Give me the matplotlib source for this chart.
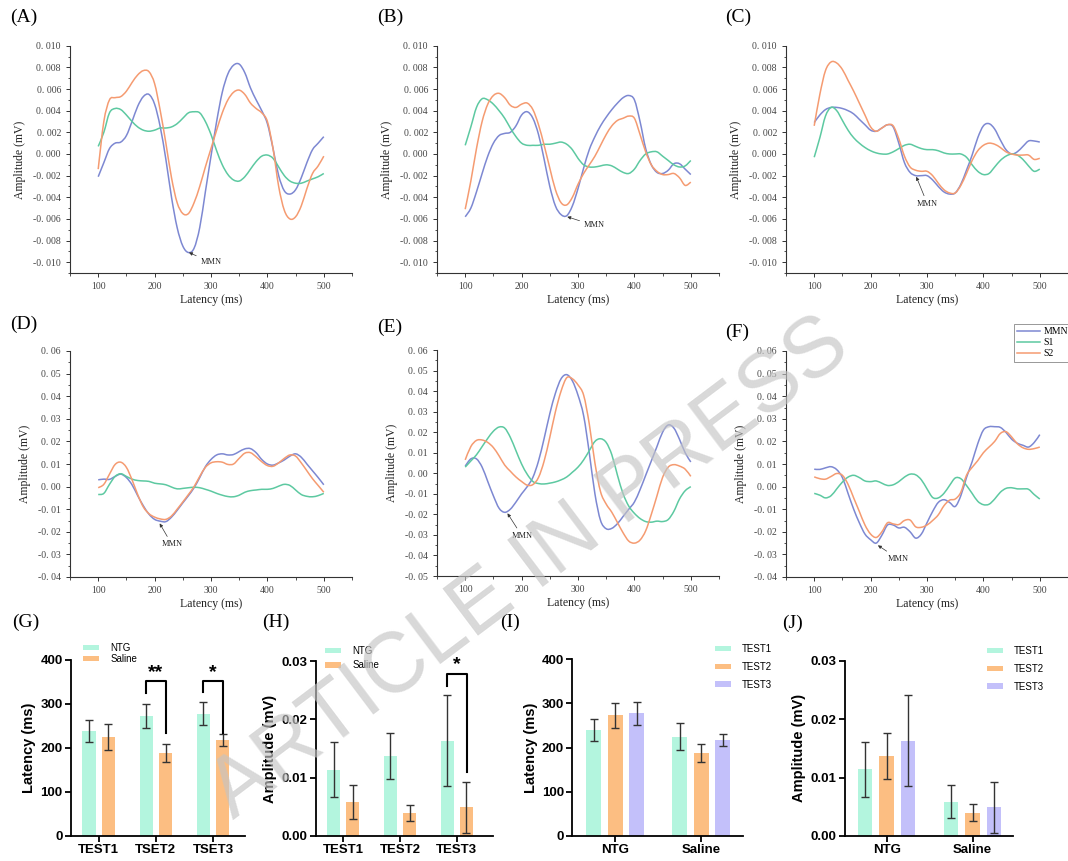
import numpy as np
import matplotlib.pyplot as plt
from matplotlib.ticker import MultipleLocator, FuncFormatter
from matplotlib.patches import Patch, PathPatch
from matplotlib.lines import Line2D
from matplotlib.path import Path

plt.rcParams['font.family'] = ['Liberation Serif', 'DejaVu Serif']
SANS = ['Liberation Sans', 'DejaVu Sans']

C_MMN = '#7d88d2'
C_S1 = '#5dc9a1'
C_S2 = '#f59b71'
C_T1 = '#b3f5de'
C_T2 = '#fcbe82'
C_T3 = '#c3c0fa'

# shared latency axis of all waveforms (ms)
latency = np.arange(100, 501, 10)

# (A)
a_mmn = [-0.0021, -0.0008, 0.0005, 0.0010, 0.0011, 0.0017, 0.0030, 0.0044, 0.0053, 0.0055,
         0.0046, 0.0025, -0.0005, -0.0040, -0.0068, -0.0085, -0.0091, -0.0087, -0.0068, -0.0035,
         -0.0002, 0.0030, 0.0057, 0.0074, 0.0082, 0.0083, 0.0075, 0.0061, 0.0050, 0.0040,
         0.0028, 0.0005, -0.0020, -0.0034, -0.0037, -0.0033, -0.0022, -0.0008, 0.0004, 0.0010, 0.0016]
a_s1 = [0.0007, 0.0020, 0.0038, 0.0042, 0.0041, 0.0036, 0.0030, 0.0025, 0.0022, 0.0021,
        0.0022, 0.0024, 0.0024, 0.0025, 0.0028, 0.0033, 0.0038, 0.0039, 0.0038, 0.0030,
        0.0018, 0.0003, -0.0010, -0.0019, -0.0024, -0.0025, -0.0021, -0.0014, -0.0007, -0.0002,
        -0.0001, -0.0004, -0.0012, -0.0020, -0.0025, -0.0027, -0.0027, -0.0025, -0.0023, -0.0021, -0.0018]
a_s2 = [-0.0014, 0.0030, 0.0050, 0.0052, 0.0053, 0.0058, 0.0066, 0.0073, 0.0077, 0.0076,
        0.0065, 0.0040, 0.0010, -0.0022, -0.0045, -0.0055, -0.0055, -0.0045, -0.0030, -0.0012,
        0.0005, 0.0022, 0.0038, 0.0050, 0.0057, 0.0059, 0.0055, 0.0047, 0.0042, 0.0038,
        0.0030, 0.0005, -0.0030, -0.0052, -0.0060, -0.0058, -0.0048, -0.0032, -0.0018, -0.0011, -0.0002]

# (B)
b_mmn = [-0.0058, -0.0050, -0.0035, -0.0018, -0.0002, 0.0010, 0.0017, 0.0019, 0.0020, 0.0026,
         0.0036, 0.0039, 0.0033, 0.0018, -0.0005, -0.0030, -0.0048, -0.0056, -0.0057, -0.0048,
         -0.0032, -0.0013, 0.0004, 0.0016, 0.0026, 0.0034, 0.0041, 0.0047, 0.0052, 0.0054,
         0.0050, 0.0030, 0.0005, -0.0010, -0.0017, -0.0018, -0.0015, -0.0009, -0.0009, -0.0014, -0.0019]
b_s1 = [0.0008, 0.0025, 0.0043, 0.0051, 0.0050, 0.0046, 0.0040, 0.0033, 0.0024, 0.0016,
        0.0010, 0.0008, 0.0008, 0.0008, 0.0009, 0.0009, 0.0010, 0.0011, 0.0009, 0.0004,
        -0.0004, -0.0010, -0.0012, -0.0012, -0.0011, -0.0010, -0.0011, -0.0014, -0.0017, -0.0018,
        -0.0014, -0.0006, 0.0000, 0.0002, 0.0002, -0.0002, -0.0006, -0.0010, -0.0012, -0.0011, -0.0006]
b_s2 = [-0.0051, -0.0025, 0.0005, 0.0030, 0.0046, 0.0054, 0.0056, 0.0052, 0.0045, 0.0043,
        0.0046, 0.0047, 0.0041, 0.0027, 0.0008, -0.0013, -0.0033, -0.0045, -0.0047, -0.0040,
        -0.0028, -0.0018, -0.0010, -0.0002, 0.0008, 0.0018, 0.0026, 0.0031, 0.0033, 0.0035,
        0.0033, 0.0018, 0.0002, -0.0010, -0.0016, -0.0019, -0.0019, -0.0018, -0.0022, -0.0029, -0.0026]

# (C)
c_mmn = [0.0029, 0.0036, 0.0041, 0.0043, 0.0043, 0.0042, 0.0040, 0.0037, 0.0032, 0.0027,
         0.0022, 0.0021, 0.0024, 0.0027, 0.0025, 0.0010, -0.0008, -0.0017, -0.0020, -0.0020,
         -0.0020, -0.0024, -0.0030, -0.0035, -0.0037, -0.0036, -0.0028, -0.0015, -0.0001, 0.0015,
         0.0026, 0.0028, 0.0023, 0.0013, 0.0004, 0.0000, 0.0002, 0.0007, 0.0012, 0.0012, 0.0011]
c_s1 = [-0.0003, 0.0015, 0.0035, 0.0043, 0.0040, 0.0031, 0.0022, 0.0015, 0.0010, 0.0006,
        0.0003, 0.0001, 0.0000, 0.0000, 0.0002, 0.0005, 0.0008, 0.0009, 0.0007, 0.0005,
        0.0004, 0.0004, 0.0003, 0.0001, 0.0000, 0.0000, 0.0000, -0.0003, -0.0010, -0.0016,
        -0.0019, -0.0018, -0.0012, -0.0006, -0.0002, 0.0000, -0.0001, -0.0005, -0.0011, -0.0016, -0.0014]
c_s2 = [0.0026, 0.0055, 0.0077, 0.0085, 0.0084, 0.0078, 0.0068, 0.0058, 0.0047, 0.0036,
        0.0025, 0.0021, 0.0024, 0.0027, 0.0026, 0.0014, -0.0002, -0.0012, -0.0015, -0.0016,
        -0.0016, -0.0020, -0.0027, -0.0033, -0.0036, -0.0036, -0.0029, -0.0018, -0.0006, 0.0003,
        0.0008, 0.0010, 0.0009, 0.0006, 0.0002, 0.0000, -0.0001, -0.0001, -0.0001, -0.0005, -0.0004]

# (D)
d_mmn = [0.0030, 0.0033, 0.0032, 0.0045, 0.0055, 0.0040, 0.0008, -0.0040, -0.0085, -0.0122,
         -0.0145, -0.0153, -0.0155, -0.0135, -0.0105, -0.0072, -0.0040, -0.0005, 0.0040, 0.0088,
         0.0120, 0.0140, 0.0145, 0.0140, 0.0142, 0.0155, 0.0167, 0.0168, 0.0150, 0.0120,
         0.0100, 0.0095, 0.0105, 0.0118, 0.0135, 0.0145, 0.0130, 0.0100, 0.0070, 0.0040, 0.0008]
d_s1 = [-0.0035, -0.0030, 0.0010, 0.0045, 0.0057, 0.0045, 0.0033, 0.0027, 0.0025, 0.0023,
        0.0015, 0.0012, 0.0008, -0.0002, -0.0010, -0.0008, -0.0005, -0.0003, -0.0005, -0.0012,
        -0.0020, -0.0030, -0.0038, -0.0044, -0.0045, -0.0038, -0.0025, -0.0018, -0.0015, -0.0012,
        -0.0012, -0.0008, 0.0002, 0.0010, 0.0005, -0.0015, -0.0035, -0.0043, -0.0045, -0.0040, -0.0030]
d_s2 = [-0.0005, 0.0010, 0.0055, 0.0098, 0.0108, 0.0085, 0.0030, -0.0035, -0.0090, -0.0120,
        -0.0135, -0.0143, -0.0145, -0.0130, -0.0100, -0.0068, -0.0035, 0.0000, 0.0045, 0.0085,
        0.0105, 0.0110, 0.0108, 0.0098, 0.0100, 0.0125, 0.0148, 0.0150, 0.0132, 0.0110,
        0.0093, 0.0090, 0.0105, 0.0125, 0.0140, 0.0135, 0.0105, 0.0070, 0.0035, 0.0005, -0.0025]

# (E)
e_mmn = [0.0035, 0.0070, 0.0070, 0.0030, -0.0040, -0.0110, -0.0170, -0.0190, -0.0175, -0.0140,
         -0.0100, -0.0065, -0.0020, 0.0060, 0.0170, 0.0290, 0.0390, 0.0460, 0.0480, 0.0450,
         0.0380, 0.0280, 0.0100, -0.0100, -0.0230, -0.0270, -0.0268, -0.0245, -0.0210, -0.0175,
         -0.0140, -0.0080, -0.0010, 0.0060, 0.0130, 0.0200, 0.0235, 0.0220, 0.0165, 0.0100, 0.0055]
e_s1 = [0.0030, 0.0060, 0.0090, 0.0130, 0.0170, 0.0205, 0.0225, 0.0220, 0.0175, 0.0110,
        0.0045, -0.0005, -0.0040, -0.0050, -0.0052, -0.0048, -0.0042, -0.0032, -0.0018, 0.0005,
        0.0030, 0.0065, 0.0110, 0.0155, 0.0168, 0.0150, 0.0090, -0.0010, -0.0100, -0.0160,
        -0.0195, -0.0220, -0.0235, -0.0238, -0.0233, -0.0235, -0.0225, -0.0185, -0.0125, -0.0085, -0.0065]
e_s2 = [0.0065, 0.0130, 0.0160, 0.0162, 0.0150, 0.0125, 0.0085, 0.0040, 0.0010, -0.0018,
        -0.0040, -0.0058, -0.0055, -0.0020, 0.0060, 0.0175, 0.0300, 0.0400, 0.0465, 0.0460,
        0.0430, 0.0380, 0.0240, 0.0050, -0.0090, -0.0150, -0.0190, -0.0240, -0.0290, -0.0330,
        -0.0340, -0.0325, -0.0280, -0.0200, -0.0110, -0.0020, 0.0030, 0.0042, 0.0035, 0.0020, -0.0015]

# (F)
f_mmn = [0.0077, 0.0076, 0.0083, 0.0088, 0.0075, 0.0040, -0.0030, -0.0100, -0.0160, -0.0210,
         -0.0235, -0.0250, -0.0215, -0.0170, -0.0170, -0.0183, -0.0180, -0.0200, -0.0228, -0.0210,
         -0.0160, -0.0110, -0.0070, -0.0058, -0.0070, -0.0088, -0.0040, 0.0040, 0.0110, 0.0190,
         0.0250, 0.0265, 0.0265, 0.0262, 0.0240, 0.0210, 0.0192, 0.0183, 0.0175, 0.0195, 0.0230]
f_s1 = [-0.0030, -0.0038, -0.0050, -0.0040, -0.0010, 0.0020, 0.0042, 0.0050, 0.0040, 0.0025,
        0.0022, 0.0025, 0.0015, 0.0005, 0.0008, 0.0022, 0.0042, 0.0055, 0.0052, 0.0030,
        -0.0010, -0.0048, -0.0050, -0.0030, 0.0005, 0.0038, 0.0035, 0.0005, -0.0030, -0.0065,
        -0.0080, -0.0078, -0.0055, -0.0025, -0.0008, -0.0005, -0.0010, -0.0010, -0.0012, -0.0035, -0.0055]
f_s2 = [0.0043, 0.0035, 0.0033, 0.0045, 0.0058, 0.0050, 0.0010, -0.0050, -0.0110, -0.0170,
        -0.0210, -0.0225, -0.0200, -0.0160, -0.0165, -0.0168, -0.0150, -0.0148, -0.0178, -0.0180,
        -0.0170, -0.0150, -0.0125, -0.0085, -0.0060, -0.0055, -0.0025, 0.0050, 0.0085, 0.0115,
        0.0150, 0.0175, 0.0200, 0.0235, 0.0243, 0.0220, 0.0190, 0.0172, 0.0165, 0.0168, 0.0175]

# MMN markers: (tip x, tip y, text x, text y)
mmn_notes = {
    'A': (261, -0.0091, 281, -0.0100),
    'B': (281, -0.0058, 310, -0.0066),
    'C': (281, -0.0021, 282, -0.0046),
    'D': (209, -0.0163, 212, -0.0256),
    'E': (175, -0.0195, 182, -0.0305),
    'F': (213, -0.0260, 230, -0.0319),
}

# bar charts (mean, sd)
tests_g = ['TEST1', 'TSET2', 'TSET3']
tests_h = ['TEST1', 'TEST2', 'TEST3']
groups = ['NTG', 'Saline']
lat_ntg = [239, 273, 278]
lat_ntg_sd = [25, 28, 26]
lat_sal = [225, 188, 218]
lat_sal_sd = [30, 20, 13.5]
amp_ntg = [0.0114, 0.0137, 0.0163]
amp_ntg_sd = [0.0047, 0.0040, 0.0078]
amp_sal = [0.0059, 0.0040, 0.0049]
amp_sal_sd = [0.0029, 0.0014, 0.0044]

W, H = 1068, 861
fig = plt.figure(figsize=(W / 100, H / 100), dpi=100)


def px_rect(left, top, right, bottom):
    return [left / W, 1 - bottom / H, (right - left) / W, (bottom - top) / H]


def amp_fmt(nd):
    def f(v, pos):
        s = f"{v:.{nd}f}"
        if float(s) == 0:
            s = s.lstrip('-')
        return s.replace('.', '. ')
    return FuncFormatter(f)


def spline_line(ax, x, y, color):
    # smooth (Catmull-Rom style) connection through the data points, like Origin's spline line
    x = np.asarray(x, float)
    y = np.asarray(y, float)
    xp = np.concatenate([[x[0]], x, [x[-1]]])
    yp = np.concatenate([[y[0]], y, [y[-1]]])
    verts = [(x[0], y[0])]
    codes = [Path.MOVETO]
    for i in range(len(x) - 1):
        c1 = (x[i] + (xp[i + 2] - xp[i]) / 6, y[i] + (yp[i + 2] - yp[i]) / 6)
        c2 = (x[i + 1] - (xp[i + 3] - xp[i + 1]) / 6, y[i + 1] - (yp[i + 3] - yp[i + 1]) / 6)
        verts += [c1, c2, (x[i + 1], y[i + 1])]
        codes += [Path.CURVE4] * 3
    ax.add_patch(PathPatch(Path(verts, codes), facecolor='none', edgecolor=color, lw=1.1))


def wave_panel(rect, mmn, s1, s2, ylim, step, nd, note):
    ax = fig.add_axes(rect)
    spline_line(ax, latency, mmn, C_MMN)
    spline_line(ax, latency, s1, C_S1)
    spline_line(ax, latency, s2, C_S2)
    ax.set_xlim(50, 550)
    ax.set_ylim(*ylim)
    ax.xaxis.set_major_locator(MultipleLocator(100))
    ax.xaxis.set_minor_locator(MultipleLocator(50))
    ax.yaxis.set_major_locator(MultipleLocator(step))
    ax.yaxis.set_minor_locator(MultipleLocator(step / 2))
    ax.yaxis.set_major_formatter(amp_fmt(nd))
    for s in ('top', 'right'):
        ax.spines[s].set_visible(False)
    for s in ('left', 'bottom'):
        ax.spines[s].set_linewidth(0.8)
        ax.spines[s].set_color('#333333')
    ax.tick_params(which='major', length=3, width=0.7, labelsize=7,
                   color='#333333', labelcolor='#444444')
    ax.tick_params(which='minor', length=1.8, width=0.6, color='#333333')
    ax.set_xlabel('Latency (ms)', fontsize=8.5, labelpad=2, color='#222222')
    ax.set_ylabel('Amplitude (mV)', fontsize=8.5, labelpad=5, color='#222222')
    tx, ty, nx, ny = note
    ax.annotate('MMN', xy=(tx, ty), xytext=(nx, ny), fontsize=6, ha='left', va='center',
                color='#222222',
                arrowprops=dict(arrowstyle='-|>', lw=0.5, color='#333333',
                                mutation_scale=5, shrinkA=1, shrinkB=0))
    return ax


top1, bot1 = 45.7, 273.1
top2, bot2 = 351, 577
lefts = [70, 437, 786]
wave_panel(px_rect(lefts[0], top1, lefts[0] + 282, bot1), a_mmn, a_s1, a_s2, (-0.011, 0.010), 0.002, 3, mmn_notes['A'])
wave_panel(px_rect(lefts[1], top1, lefts[1] + 282, bot1), b_mmn, b_s1, b_s2, (-0.011, 0.010), 0.002, 3, mmn_notes['B'])
wave_panel(px_rect(lefts[2], top1, lefts[2] + 282, bot1), c_mmn, c_s1, c_s2, (-0.011, 0.010), 0.002, 3, mmn_notes['C'])
wave_panel(px_rect(lefts[0], top2, lefts[0] + 282, bot2), d_mmn, d_s1, d_s2, (-0.04, 0.06), 0.01, 2, mmn_notes['D'])
wave_panel(px_rect(lefts[1], top2 - 1, lefts[1] + 282, bot2 - 1), e_mmn, e_s1, e_s2, (-0.05, 0.06), 0.01, 2, mmn_notes['E'])
wave_panel(px_rect(lefts[2], top2, lefts[2] + 282, bot2), f_mmn, f_s1, f_s2, (-0.04, 0.06), 0.01, 2, mmn_notes['F'])

wave_handles = [Line2D([], [], color=c, lw=1.1) for c in (C_MMN, C_S1, C_S2)]
leg = fig.legend(wave_handles, ['MMN', 'S1', 'S2'], loc='upper left',
                 bbox_to_anchor=(1014 / W, 1 - 324 / H), bbox_transform=fig.transFigure,
                 fontsize=7, handlelength=2.3, handletextpad=0.4, labelspacing=0.2,
                 borderpad=0.35, borderaxespad=0, fancybox=False, framealpha=1,
                 edgecolor='#888888')
leg.get_frame().set_linewidth(0.6)


def bar_axes(rect, xlim, ylim, ticks, nd, xlabels, ylabel):
    ax = fig.add_axes(rect)
    ax.set_xlim(*xlim)
    ax.set_ylim(*ylim)
    for s in ('top', 'right'):
        ax.spines[s].set_visible(False)
    for s in ('left', 'bottom'):
        ax.spines[s].set_linewidth(1.3)
    ax.set_yticks(ticks, [f"{t:.{nd}f}" for t in ticks], family=SANS, fontweight='bold', fontsize=9.5)
    ax.set_xticks(range(len(xlabels)), xlabels, family=SANS, fontweight='bold', fontsize=9.5)
    ax.tick_params(width=1.3, length=4, pad=2)
    ax.set_ylabel(ylabel, family=SANS, fontweight='bold', fontsize=10.5, labelpad=3)
    return ax


def bars(ax, xs, vals, sds, color, width):
    ax.bar(xs, vals, width=width, color=color, edgecolor='none', zorder=2)
    ax.errorbar(xs, vals, yerr=sds, fmt='none', ecolor='#333333', elinewidth=1,
                capsize=2.8, capthick=1, zorder=3)


def bracket(ax, x0, x1, ytop, yl, yr, stars, ystar):
    ax.plot([x0, x0, x1, x1], [yl, ytop, ytop, yr], color='black', lw=1.5, clip_on=False, zorder=4)
    ax.text((x0 + x1) / 2, ystar, stars, ha='center', va='center', family=SANS,
            fontweight='bold', fontsize=14)


def bar_legend(ax, names, colors, anchor_px, spacing):
    handles = [Patch(facecolor=c, edgecolor='none') for c in colors]
    ax.legend(handles, names, loc='upper left', frameon=False,
              bbox_to_anchor=(anchor_px[0] / W, 1 - anchor_px[1] / H), bbox_transform=fig.transFigure,
              prop=dict(family=SANS, size=7), handlelength=1.6, handleheight=0.45,
              handletextpad=1.2, labelspacing=spacing, borderpad=0, borderaxespad=0)


x3 = np.arange(3)
x2 = np.arange(2)

# (G) latency by test
ax_g = bar_axes(px_rect(71, 660, 245, 836), (-0.485, 2.56), (0, 400), [0, 100, 200, 300, 400], 0,
                tests_g, 'Latency (ms)')
bars(ax_g, x3 - 0.17, lat_ntg, lat_ntg_sd, C_T1, 0.23)
bars(ax_g, x3 + 0.17, lat_sal, lat_sal_sd, C_T2, 0.23)
bracket(ax_g, 1 - 0.17, 1 + 0.17, 352, 325, 234, '**', 372)
bracket(ax_g, 2 - 0.17, 2 + 0.17, 352, 327, 233, '*', 372)
bar_legend(ax_g, groups, [C_T1, C_T2], (83, 643), 0.1)

# (H) amplitude by test
ax_h = bar_axes(px_rect(315.7, 661, 493, 836), (-0.487, 2.64), (0, 0.03), [0, 0.01, 0.02, 0.03], 2,
                tests_h, 'Amplitude (mV)')
bars(ax_h, x3 - 0.17, amp_ntg, amp_ntg_sd, C_T1, 0.23)
bars(ax_h, x3 + 0.17, amp_sal, amp_sal_sd, C_T2, 0.23)
bracket(ax_h, 2 - 0.176, 2 + 0.176, 0.0278, 0.0257, 0.011, '*', 0.0294)
bar_legend(ax_h, groups, [C_T1, C_T2], (325, 646), 0.45)

# (I) latency by group
ax_i = bar_axes(px_rect(572.3, 659.3, 743, 836), (-0.5, 1.485), (0, 400), [0, 100, 200, 300, 400], 0,
                groups, 'Latency (ms)')
for k, (c, off) in enumerate(zip([C_T1, C_T2, C_T3], [-0.25, 0, 0.25])):
    bars(ax_i, x2 + off, [lat_ntg[k], lat_sal[k]], [lat_ntg_sd[k], lat_sal_sd[k]], c, 0.17)
bar_legend(ax_i, tests_h, [C_T1, C_T2, C_T3], (715, 644), 0.8)

# (J) amplitude by group
ax_j = bar_axes(px_rect(845, 660.7, 1013, 836), (-0.485, 1.47), (0, 0.03), [0, 0.01, 0.02, 0.03], 2,
                groups, 'Amplitude (mV)')
for k, (c, off) in enumerate(zip([C_T1, C_T2, C_T3], [-0.25, 0, 0.25])):
    bars(ax_j, x2 + off, [amp_ntg[k], amp_sal[k]], [amp_ntg_sd[k], amp_sal_sd[k]], c, 0.17)
bar_legend(ax_j, tests_h, [C_T1, C_T2, C_T3], (987, 646), 0.8)

# panel letters
letters = {'(A)': (10, 17), '(B)': (377, 17), '(C)': (725, 17),
           '(D)': (10, 324), '(E)': (377, 327), '(F)': (725, 332),
           '(G)': (12, 622), '(H)': (262, 622), '(I)': (500, 622), '(J)': (782, 623)}
for name, (x, y) in letters.items():
    fig.text(x / W, 1 - y / H, name, fontsize=14, ha='left', va='center')

# watermark
fig.text(530 / W, 1 - 569 / H, 'ARTICLE IN PRESS', rotation=37, ha='center', va='center',
         family=SANS, fontsize=61, color='#c4c4c4', alpha=0.65, zorder=100)

fig.savefig('out.png', dpi=100)
